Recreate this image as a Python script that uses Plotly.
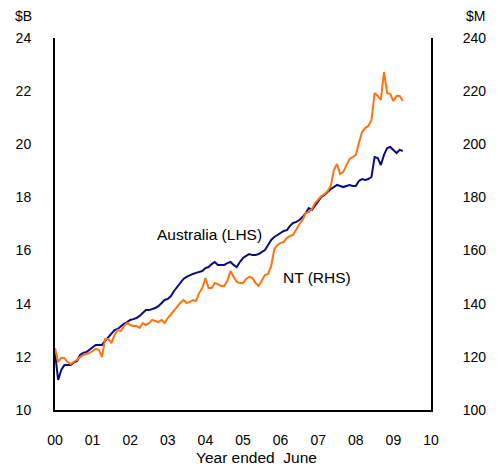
import numpy as np
import plotly.graph_objects as go

# Monthly values, starting at the beginning of the "00" year
australia_lhs = [
    12.15, 11.13, 11.51, 11.69, 11.69, 11.69, 11.79, 11.84, 12.07, 12.15,
    12.18, 12.26, 12.37, 12.45, 12.45, 12.45, 12.60, 12.75, 12.90, 13.01,
    13.05, 13.16, 13.24, 13.31, 13.39, 13.42, 13.46, 13.54, 13.65, 13.76,
    13.76, 13.80, 13.84, 13.91, 14.03, 14.14, 14.18, 14.29, 14.48, 14.63,
    14.82, 14.93, 15.01, 15.08, 15.12, 15.16, 15.19, 15.23, 15.34, 15.38,
    15.49, 15.57, 15.46, 15.46, 15.46, 15.53, 15.57, 15.46, 15.38, 15.57,
    15.72, 15.80, 15.87, 15.83, 15.83, 15.87, 15.95, 16.02, 16.21, 16.40,
    16.51, 16.59, 16.66, 16.74, 16.77, 16.93, 17.04, 17.08, 17.15, 17.26,
    17.41, 17.60, 17.53, 17.68, 17.87, 18.02, 18.09, 18.20, 18.32, 18.39,
    18.47, 18.43, 18.39, 18.43, 18.47, 18.43, 18.43, 18.62, 18.69, 18.66,
    18.69, 18.77, 19.52, 19.48, 19.22, 19.60, 19.86, 19.90, 19.79, 19.67,
    19.79, 19.75,
]

nt_rhs = [
    123.3, 118.1, 119.6, 119.6, 118.1, 117.3, 118.1, 118.8, 119.9, 120.7,
    121.1, 121.5, 122.2, 123.0, 122.6, 119.9, 126.7, 126.7, 125.2, 128.2,
    130.1, 129.7, 131.6, 132.7, 132.0, 131.6, 131.6, 130.9, 132.7, 132.0,
    132.7, 133.9, 133.5, 133.1, 133.9, 132.7, 134.6, 136.1, 137.6, 138.8,
    140.3, 141.4, 140.3, 140.6, 141.4, 141.0, 144.0, 145.9, 149.7, 145.9,
    145.9, 147.8, 147.4, 146.7, 146.7, 148.6, 152.3, 150.1, 148.2, 147.8,
    147.8, 149.3, 150.1, 149.7, 147.8, 146.7, 148.9, 150.8, 151.2, 154.2,
    160.6, 162.1, 162.9, 163.2, 164.7, 165.5, 165.9, 168.1, 170.0, 171.5,
    174.1, 174.5, 175.7, 177.9, 179.4, 180.5, 181.3, 182.4, 184.3, 190.3,
    192.6, 188.8, 189.6, 191.8, 194.5, 195.2, 196.0, 200.5, 204.6, 206.1,
    206.9, 209.1, 219.3, 218.2, 216.7, 227.2, 219.3, 218.9, 216.3, 218.2,
    218.2, 216.3,
]

year_ticks = [0, 1, 2, 3, 4, 5, 6, 7, 8, 9, 10]
year_labels = ["00", "01", "02", "03", "04", "05", "06", "07", "08", "09", "10"]
left_ticks = [10, 12, 14, 16, 18, 20, 22, 24]
right_ticks = [100, 120, 140, 160, 180, 200, 220, 240]

x_aus = np.arange(len(australia_lhs)) / 12.0
x_nt = np.arange(len(nt_rhs)) / 12.0

NAVY = "#0B0B7E"
ORANGE = "#FF7311"
FONT = "Liberation Sans, Arial, sans-serif"

fig = go.Figure()
fig.add_trace(go.Scatter(x=x_nt, y=nt_rhs, mode="lines", yaxis="y2",
                         line=dict(color=ORANGE, width=2), name="NT (RHS)"))
fig.add_trace(go.Scatter(x=x_aus, y=australia_lhs, mode="lines", yaxis="y",
                         line=dict(color=NAVY, width=2), name="Australia (LHS)"))

# The page body adds an 8px offset at top-left, so the figure is 8px smaller
fig.update_layout(
    width=491, height=458,
    margin=dict(l=47, r=68, t=30, b=56),
    paper_bgcolor="white", plot_bgcolor="white",
    showlegend=False,
    font=dict(family=FONT, size=14, color="black"),
    xaxis=dict(range=[0, 10], tickvals=year_ticks, ticktext=year_labels,
               automargin=False,
               showgrid=False, zeroline=False, showline=True, linecolor="black",
               linewidth=2, ticks="outside", ticklen=16,
               tickcolor="rgba(0,0,0,0)"),
    yaxis=dict(range=[10, 24], tickvals=left_ticks, showgrid=False,
               automargin=False,
               zeroline=False, showline=True, linecolor="black", linewidth=2,
               ticks="outside", ticklen=19, tickcolor="rgba(0,0,0,0)"),
    yaxis2=dict(range=[100, 240], tickvals=right_ticks, overlaying="y",
                automargin=False,
                side="right", showgrid=False, zeroline=False, showline=True,
                linecolor="black", linewidth=2, ticks="outside", ticklen=27,
                tickcolor="rgba(0,0,0,0)"),
    annotations=[
        dict(text="$B", xref="paper", yref="paper", x=-0.113, y=1.059,
             xanchor="left", yanchor="middle", showarrow=False),
        dict(text="$M", xref="paper", yref="paper", x=1.149, y=1.059,
             xanchor="right", yanchor="middle", showarrow=False),
        dict(text="Year ended  June", xref="paper", yref="paper", x=0.535,
             y=-0.129, xanchor="center", yanchor="middle", showarrow=False,
             font=dict(size=15.5)),
        dict(text="Australia (LHS)", xref="x", yref="y", x=4.12, y=16.6,
             showarrow=False, font=dict(size=15.5)),
        dict(text="NT (RHS)", xref="x", yref="y", x=6.97, y=15.0,
             showarrow=False, font=dict(size=15.5)),
    ],
)

fig.write_html("out.html")
